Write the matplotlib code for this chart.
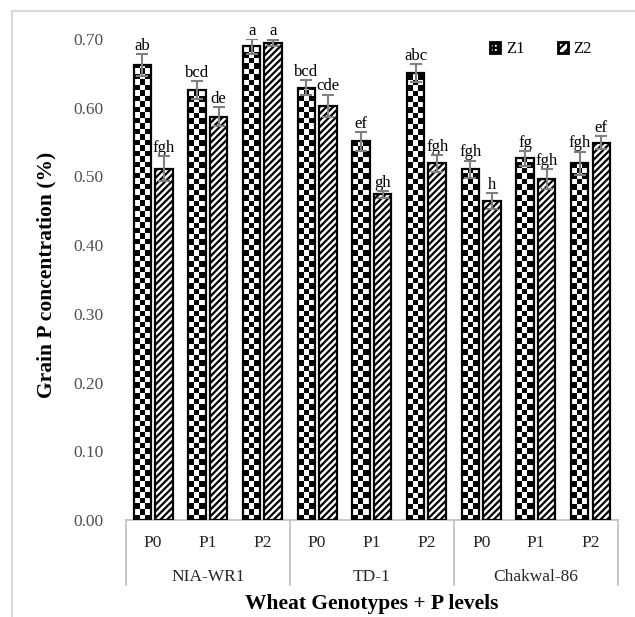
import numpy as np
import matplotlib
matplotlib.use('Agg')
import matplotlib.pyplot as plt
from matplotlib.patches import Patch
from matplotlib.lines import Line2D
import matplotlib.transforms as mtransforms

plt.rcParams['font.family'] = ['Liberation Serif', 'DejaVu Serif']
plt.rcParams['hatch.linewidth'] = 1.6

# Data
genotypes = ['NIA-WR1', 'TD-1', 'Chakwal-86']
p_levels = ['P0', 'P1', 'P2']
z1_values = [0.662, 0.625, 0.689, 0.629, 0.551, 0.650, 0.510, 0.526, 0.519]
z2_values = [0.511, 0.587, 0.694, 0.603, 0.474, 0.519, 0.464, 0.496, 0.549]
z1_errors = [0.016, 0.013, 0.011, 0.011, 0.014, 0.013, 0.013, 0.011, 0.017]
z2_errors = [0.018, 0.014, 0.005, 0.016, 0.005, 0.012, 0.012, 0.015, 0.009]
z1_letters = ['ab', 'bcd', 'a', 'bcd', 'ef', 'abc', 'fgh', 'fg', 'fgh']
z2_letters = ['fgh', 'de', 'a', 'cde', 'gh', 'fgh', 'h', 'fgh', 'ef']

fig = plt.figure(figsize=(6.35, 6.17), dpi=100)
ax = fig.add_axes([0.198, 0.157, 0.775, 0.78])

x = np.arange(len(z1_values))
width = 0.32
off = 0.197

# Z1 bars: checkerboard fill clipped to each bar
bars1 = ax.bar(x - off, z1_values, width, facecolor='none', edgecolor='black',
               linewidth=1.6, zorder=3)
cx, cy = 0.1, 0.008
for b in bars1:
    x0 = b.get_x()
    h = b.get_height()
    nx = int(np.ceil(b.get_width() / cx)) + 1
    ny = int(np.ceil(h / cy)) + 1
    board = (np.add.outer(np.arange(ny), np.arange(nx)) % 2).astype(float)
    im = ax.imshow(board, cmap='gray', interpolation='nearest', aspect='auto',
                   extent=[x0, x0 + nx * cx, 0, ny * cy], origin='lower', zorder=2)
    im.set_clip_path(b)

# Z2 bars: dense diagonal hatch
bars2 = ax.bar(x + off, z2_values, width, facecolor='white', edgecolor='black',
               linewidth=1.6, hatch='/////', zorder=3)

ax.errorbar(x - off, z1_values, yerr=z1_errors, fmt='none', ecolor='#808080',
            elinewidth=1.5, capsize=4, capthick=1.5, zorder=4)
ax.errorbar(x + off, z2_values, yerr=z2_errors, fmt='none', ecolor='#808080',
            elinewidth=1.5, capsize=4, capthick=1.5, zorder=4)

for i in range(len(x)):
    ax.text(x[i] - off, z1_values[i] + z1_errors[i] + 0.006, z1_letters[i],
            ha='center', va='baseline', fontsize=12, clip_on=False)
    ax.text(x[i] + off, z2_values[i] + z2_errors[i] + 0.006, z2_letters[i],
            ha='center', va='baseline', fontsize=12, clip_on=False)

ax.set_xlim(-0.5, len(x) - 0.5)
ax.set_ylim(0, 0.70)
ax.set_yticks(np.arange(0, 0.71, 0.10))
ax.set_yticklabels([f'{v:.2f}' for v in np.arange(0, 0.71, 0.10)])
ax.tick_params(axis='y', length=0, pad=16, labelsize=12.5, labelcolor='#505050')
ax.set_xticks([])
for s in ['top', 'right', 'left']:
    ax.spines[s].set_visible(False)
ax.spines['bottom'].set_color('#bfbfbf')
ax.spines['bottom'].set_linewidth(1.2)

# Two-level category axis
trans = mtransforms.blended_transform_factory(ax.transData, ax.transAxes)
for i in range(len(x)):
    ax.text(x[i], -0.048, p_levels[i % 3], transform=trans, ha='center',
            va='center', fontsize=12.5, color='#262626')
for g, name in enumerate(genotypes):
    ax.text(g * 3 + 1, -0.118, name, transform=trans, ha='center',
            va='center', fontsize=12.5, color='#262626')
for b in [-0.5, 2.5, 5.5, 8.5]:
    ax.add_line(Line2D([b, b], [0, -0.135], transform=trans, color='#bfbfbf',
                       linewidth=1.2, clip_on=False))

ax.text(0.5, -0.175, 'Wheat Genotypes + P levels', transform=ax.transAxes,
        ha='center', va='center', fontsize=15.5, fontweight='bold')
fig.text(0.073, 0.555, 'Grain P concentration (%)', rotation=90, ha='center',
         va='center', fontsize=15.5, fontweight='bold')

handles = [Patch(facecolor='white', edgecolor='black', linewidth=2, hatch='++++'),
           Patch(facecolor='white', edgecolor='black', linewidth=2, hatch='////')]
fig.legend(handles, ['Z1', 'Z2'], loc='center', bbox_to_anchor=(0.852, 0.92),
           ncol=2, frameon=False, fontsize=12, handlelength=0.6, handleheight=0.6,
           handletextpad=0.35, columnspacing=2.0)

# outer chart border (left and top edges visible)
fig.add_artist(Line2D([12 / 635, 12 / 635], [0, 1 - 11 / 617], transform=fig.transFigure,
                      color='#d9d9d9', linewidth=1.5))
fig.add_artist(Line2D([12 / 635, 1], [1 - 11 / 617, 1 - 11 / 617], transform=fig.transFigure,
                      color='#d9d9d9', linewidth=1.5))

fig.savefig('out.png', dpi=100, facecolor='white')
